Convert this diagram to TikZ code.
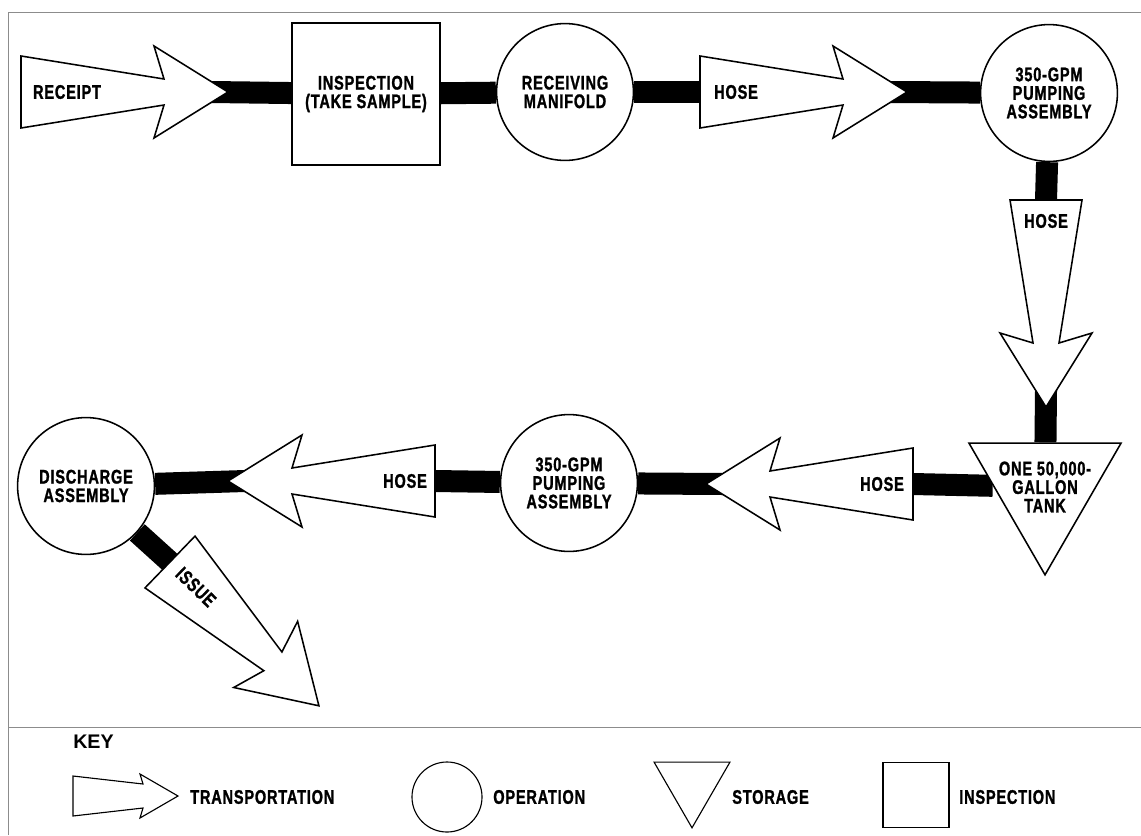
\documentclass[tikz,border=0pt]{standalone}
\usepackage{fontspec}
\setmainfont{Liberation Sans}[FakeStretch=0.74, LetterSpace=4, BoldFeatures={FakeBold=1.2}]
\newfontfamily\keyfont{Liberation Sans}
\usetikzlibrary{shapes.geometric,backgrounds}
\newcommand{\transoutline}{\draw[shapeline, fill=white] (0,-36) -- (143,-13) -- (133,-46) -- (207,0) -- (133,46) -- (143,13) -- (0,36) -- cycle;}
\tikzset{
shapeline/.style={draw=black, line width=1.1pt, line join=miter},
keyline/.style={draw=black, line width=0.8pt},
flowtext/.style={font=\fontsize{14}{13.2}\selectfont\bfseries, align=center, inner sep=0pt},
opcircle/.style={circle, shapeline, fill=white, flowtext, minimum size=3.42cm},
inspbox/.style={rectangle, shapeline, fill=white, flowtext, minimum width=3.7cm, minimum height=3.55cm},
tanknode/.style={regular polygon, regular polygon sides=3, shape border rotate=180, shapeline, fill=white, inner sep=0pt, minimum size=4.39cm},
keytext/.style={flowtext, anchor=west},
pipe/.style={line width=0.55cm, black},
framerule/.style={draw=black!45, line width=0.6pt},
pics/transport/.style args={#1 at #2}{code={
  \transoutline
  \coordinate (-tail) at (0,0);
  \coordinate (-neck) at (190,0);
  \node[flowtext] (-text) at (#2,0) {#1};
}},
}

\begin{document}
\begin{tikzpicture}[x=0.025cm, y=-0.025cm]
        \useasboundingbox (0,0) rectangle (1141,835);
        \draw[framerule] (8,835) -- (8,12) -- (1141,12);
        \draw[framerule] (8,727) -- (1141,727);

        % upper row
        \pic (rcpt) at (21,92) {transport={RECEIPT at 46}};
        \node[inspbox] (insp) at (366,94) {INSPECTION\\(TAKE SAMPLE)};
        \node[opcircle] (recv) at (565,92) {RECEIVING\\MANIFOLD};
        \pic (hose1) at (700,92) {transport={HOSE at 36}};
        \node[opcircle] (pump1) at (1049,93) {350-GPM\\PUMPING\\ASSEMBLY};

        % right side
        \pic[rotate=-90] (hose2) at (1046,200) {transport={HOSE at 21}};
        \node[tanknode] (tank) at (1045,487) {};
        \node[flowtext] (tanktext) at (tank.center) {ONE 50,000-\\GALLON\\TANK};

        % lower row
        \pic[rotate=180] (hose3) at (913,484) {transport={HOSE at 31}};
        \node[opcircle] (pump2) at (569,483) {350-GPM\\PUMPING\\ASSEMBLY};
        \pic[rotate=180] (hose4) at (435,481) {transport={HOSE at 30}};
        \node[opcircle] (disch) at (86,486) {DISCHARGE\\ASSEMBLY};
        \pic[rotate=-44, transform shape] (issue) at (170,562) {transport={ISSUE at 36}};

        \begin{scope}[on background layer]
        \draw[pipe] (rcpt-neck) -- (insp);
        \draw[pipe] (insp) -- (recv);
        \draw[pipe] (recv) -- (hose1-tail);
        \draw[pipe] (hose1-neck) -- (pump1);
        \draw[pipe] (pump1) -- (hose2-tail);
        \draw[pipe] (hose2-neck) -- (tank);
        \draw[pipe] (tank) -- (hose3-tail);
        \draw[pipe] (hose3-neck) -- (pump2);
        \draw[pipe] (pump2) -- (hose4-tail);
        \draw[pipe] (hose4-neck) -- (disch);
        \draw[pipe] (disch) -- (issue-tail);
        \end{scope}

        % key
        \node[keytext, font=\keyfont\fontsize{14}{16}\selectfont\bfseries] (keyhead) at (73,742) {KEY};
        \draw[keyline, shift={(73,796)}] (0,-20) -- (70,-12) -- (67,-22) -- (105,0) -- (67,22) -- (70,12) -- (0,20) -- cycle;
        \node[keytext] (ktrans) at (190,797) {TRANSPORTATION};
        \node[circle, keyline, minimum size=1.75cm] (kop) at (447,797) {};
        \node[keytext] (koptext) at (493,797) {OPERATION};
        \node[regular polygon, regular polygon sides=3, shape border rotate=180, keyline, inner sep=0pt, minimum size=2.19cm] (kstore) at (692,784) {};
        \node[keytext] (kstoretext) at (732,797) {STORAGE};
        \node[rectangle, keyline, minimum width=1.65cm, minimum height=1.63cm] (kinsp) at (916,795) {};
        \node[keytext] (kinsptext) at (959,797) {INSPECTION};
\end{tikzpicture}
\end{document}
